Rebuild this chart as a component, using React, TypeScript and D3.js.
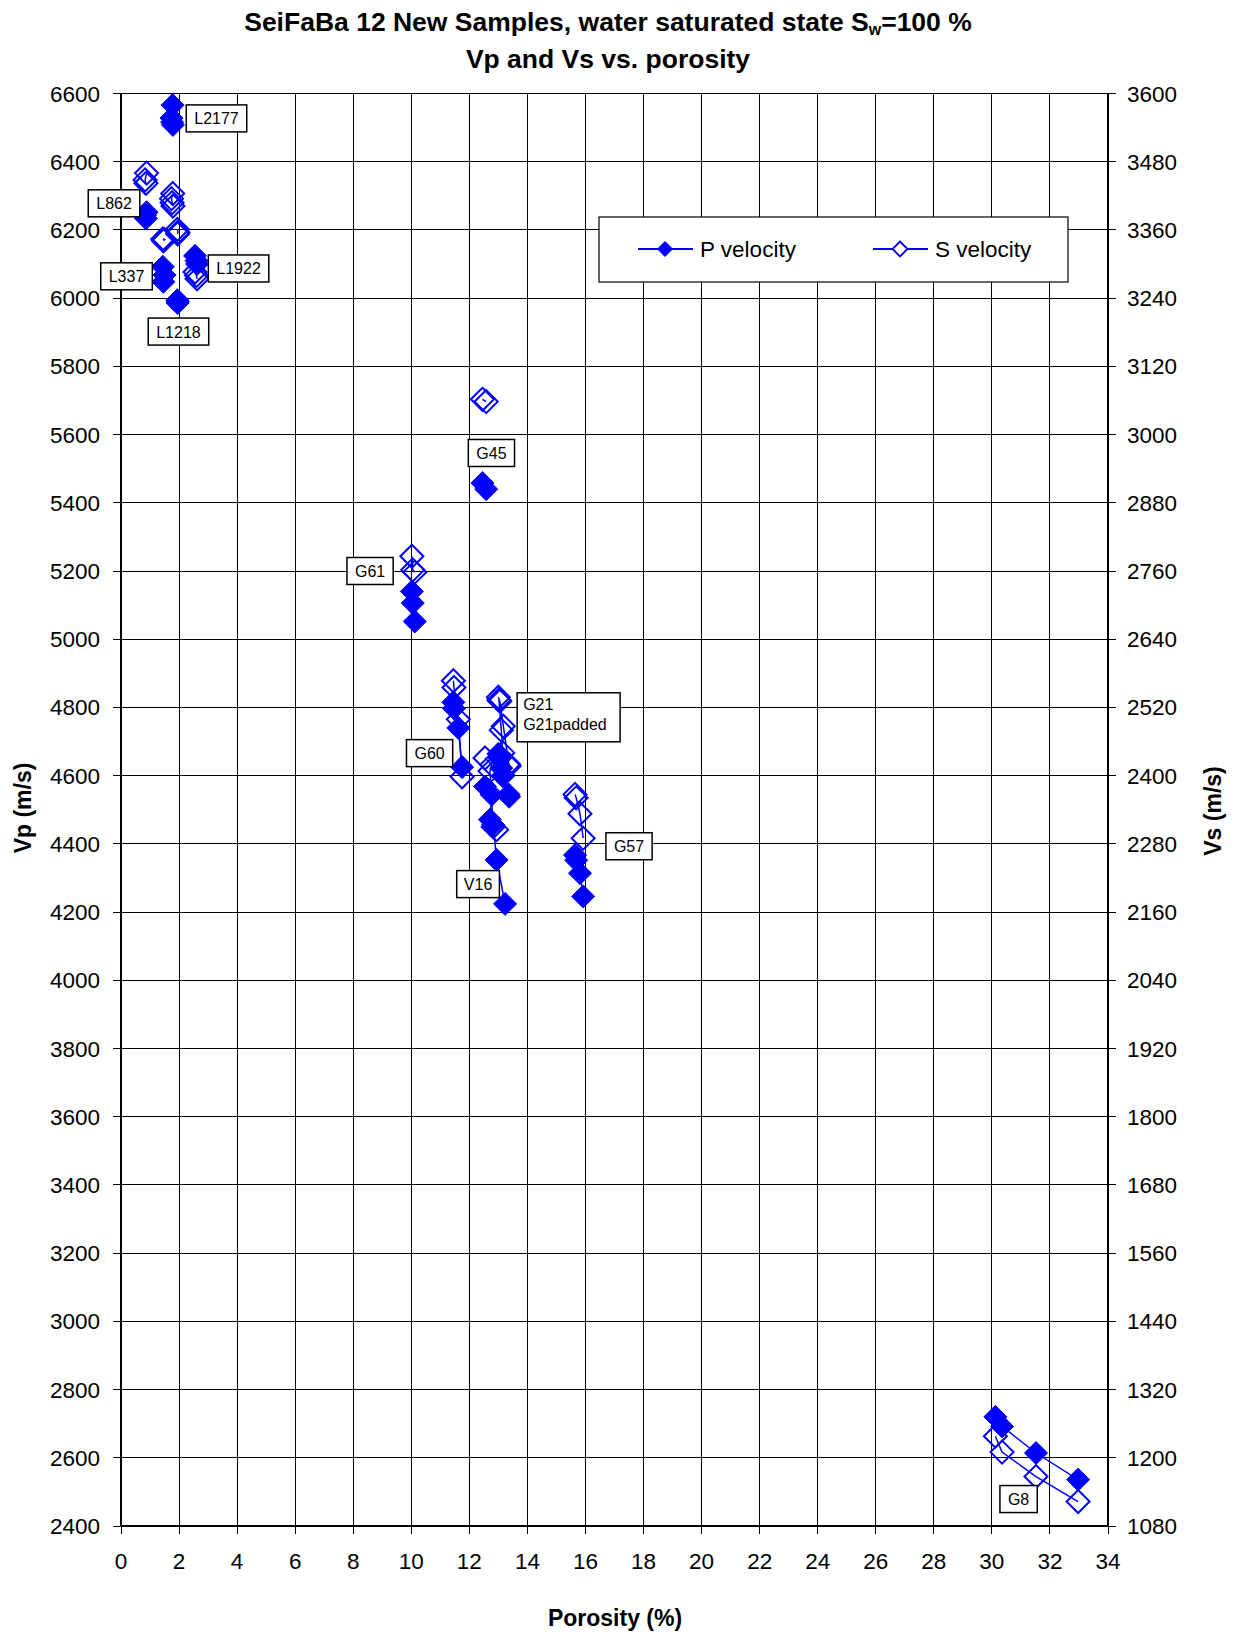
import React from 'react';
import * as d3 from 'd3';

// ---------- data ----------
const sampleNames = ['L2177', 'L862', 'L337', 'L1218', 'L1922', 'G45', 'G61', 'G60', 'G21', 'G21padded', 'V16', 'G57', 'G8'];

const L2177_por = [1.78, 1.74, 1.76, 1.79];
const L2177_vp = [6566, 6528, 6516, 6508];
const L2177_vs = [3424, 3415, 3408, 3402];

const L862_por = [0.88, 0.83, 0.86];
const L862_vp = [6252, 6244, 6234];
const L862_vs = [3460, 3448, 3442];

const L337_por = [1.44, 1.5, 1.46];
const L337_vp = [6092, 6068, 6048];
const L337_vs = [3344, 3343, 3341];

const L1218_por = [1.94, 1.96, 1.95];
const L1218_vp = [5994, 5990, 5986];
const L1218_vs = [3361, 3356, 3353];

const L1922_por = [2.55, 2.6, 2.62];
const L1922_vp = [6124, 6110, 6100];
const L1922_vs = [3286, 3280, 3274];

const G45_por = [12.45, 12.58];
const G45_vp = [5458, 5440];
const G45_vs = [3062, 3058];

const G61_por = [10.02, 10.05, 10.12];
const G61_vp = [5140, 5106, 5052];
const G61_vs = [2786, 2762, 2758];

const G60_por = [11.45, 11.47, 11.62, 11.75];
const G60_vp = [4815, 4797, 4740, 4625];
const G60_vs = [2567, 2555, 2499, 2398];

const G21_por = [13.0, 13.05, 13.17, 13.37];
const G21_vp = [4664, 4650, 4602, 4538];
const G21_vs = [2538, 2531, 2487, 2417];

const G21padded_por = [13.02, 13.1, 13.15, 13.35];
const G21padded_vp = [4655, 4622, 4598, 4545];
const G21padded_vs = [2533, 2480, 2440, 2420];

const V16_por = [12.54, 12.77, 12.71, 12.82, 12.94, 13.23];
const V16_vp = [4568, 4544, 4471, 4456, 4353, 4224];
const V16_vs = [2431, 2419, 2408, 2310, 2305, null];

const G57_por = [15.64, 15.68, 15.81, 15.92];
const G57_vp = [4367, 4352, 4314, 4246];
const G57_vs = [2367, 2361, 2333, 2290];

const G8_por = [30.12, 30.35, 31.52, 32.97];
const G8_vp = [2720, 2692, 2614, 2536];
const G8_vs = [1238, 1210, 1167, 1123];

const porosityTicks = [0, 2, 4, 6, 8, 10, 12, 14, 16, 18, 20, 22, 24, 26, 28, 30, 32, 34];
const vpTicks = [2400, 2600, 2800, 3000, 3200, 3400, 3600, 3800, 4000, 4200, 4400, 4600, 4800, 5000, 5200, 5400, 5600, 5800, 6000, 6200, 6400, 6600];
const vsTicks = [1080, 1200, 1320, 1440, 1560, 1680, 1800, 1920, 2040, 2160, 2280, 2400, 2520, 2640, 2760, 2880, 3000, 3120, 3240, 3360, 3480, 3600];

// label anchors (centre of box, in porosity / Vp units)
const labelTexts = [['L2177'], ['L862'], ['L337'], ['L1922'], ['L1218'], ['G45'], ['G61'], ['G21', 'G21padded'], ['G60'], ['V16'], ['G57'], ['G8']];
const labelPor = [3.29, -0.24, 0.19, 4.05, 1.98, 12.76, 8.58, 15.42, 10.63, 12.3, 17.5, 30.92];
const labelVp = [6527, 6278, 6064, 6087, 5902, 5546, 5200, 4771, 4666, 4282, 4393, 2479];

const sampleData = [
  [L2177_por, L2177_vp, L2177_vs],
  [L862_por, L862_vp, L862_vs],
  [L337_por, L337_vp, L337_vs],
  [L1218_por, L1218_vp, L1218_vs],
  [L1922_por, L1922_vp, L1922_vs],
  [G45_por, G45_vp, G45_vs],
  [G61_por, G61_vp, G61_vs],
  [G60_por, G60_vp, G60_vs],
  [G21_por, G21_vp, G21_vs],
  [G21padded_por, G21padded_vp, G21padded_vs],
  [V16_por, V16_vp, V16_vs],
  [G57_por, G57_vp, G57_vs],
  [G8_por, G8_vp, G8_vs],
];

// ---------- layout ----------
const W = 1237;
const H = 1635;
const left = 121;
const right = 1108;
const top = 93.5;
const bottom = 1526;
const BLUE = '#0000FF';
const FONT = '"Liberation Sans", Arial, Helvetica, sans-serif';
const R = 11.5;

function diamond(cx: number, cy: number, r: number) {
  return `M${cx},${cy - r}L${cx + r},${cy}L${cx},${cy + r}L${cx - r},${cy}Z`;
}

export default function App() {
  const x = d3.scaleLinear().domain([0, 34]).range([left, right]);
  const yP = d3.scaleLinear().domain([2400, 6600]).range([bottom, top]);
  const yS = d3.scaleLinear().domain([1080, 3600]).range([bottom, top]);

  const series = sampleNames.map((name, i) => {
    const [por, vp, vs] = sampleData[i] as [number[], number[], (number | null)[]];
    const pPts = por.map((p, k) => [x(p), yP(vp[k])] as [number, number]);
    const sPts = por
      .map((p, k) => (vs[k] == null ? null : ([x(p), yS(vs[k] as number)] as [number, number])))
      .filter((d) => d != null) as [number, number][];
    return { name, pPts, sPts };
  });

  const line = d3.line<[number, number]>();

  return (
    <svg
      width={W}
      height={H}
      style={{ position: 'absolute', left: 0, top: 0, display: 'block', background: '#fff' }}
      fontFamily={FONT}
    >
      <rect x={0} y={0} width={W} height={H} fill="#fff" />
      {/* title */}
      <text x={608} y={31} textAnchor="middle" fontSize={26.5} fontWeight="bold" fill="#000">
        SeiFaBa 12 New Samples, water saturated state S
        <tspan fontSize={16} dy={4}>w</tspan>
        <tspan dy={-4}>=100 %</tspan>
      </text>
      <text x={608} y={68} textAnchor="middle" fontSize={26.5} fontWeight="bold" fill="#000">
        Vp and Vs vs. porosity
      </text>

      {/* grid */}
      <g shapeRendering="crispEdges" stroke="#000" strokeWidth={1}>
        {vpTicks.map((t) => (
          <line key={'h' + t} x1={left} x2={right} y1={yP(t)} y2={yP(t)} />
        ))}
        {porosityTicks.map((t) => (
          <line key={'v' + t} x1={x(t)} x2={x(t)} y1={top} y2={bottom} />
        ))}
        {/* tick marks */}
        {vpTicks.map((t) => (
          <line key={'lt' + t} x1={left - 8} x2={left} y1={yP(t)} y2={yP(t)} />
        ))}
        {vsTicks.map((t) => (
          <line key={'rt' + t} x1={right} x2={right + 8} y1={yS(t)} y2={yS(t)} />
        ))}
        {porosityTicks.map((t) => (
          <line key={'bt' + t} x1={x(t)} x2={x(t)} y1={bottom} y2={bottom + 8} />
        ))}
      </g>
      {/* axes */}
      <g stroke="#000" strokeWidth={2} shapeRendering="crispEdges">
        <line x1={left} x2={left} y1={top} y2={bottom} />
        <line x1={right} x2={right} y1={top} y2={bottom} />
        <line x1={left} x2={right} y1={bottom} y2={bottom} />
      </g>

      {/* tick labels */}
      <g fontSize={22.5} fill="#000">
        {vpTicks.map((t) => (
          <text key={'ll' + t} x={100} y={yP(t) + 8} textAnchor="end">
            {t}
          </text>
        ))}
        {vsTicks.map((t) => (
          <text key={'rl' + t} x={1127} y={yS(t) + 8} textAnchor="start">
            {t}
          </text>
        ))}
        {porosityTicks.map((t) => (
          <text key={'bl' + t} x={x(t)} y={1569} textAnchor="middle">
            {t}
          </text>
        ))}
      </g>

      {/* axis titles */}
      <text x={615} y={1626} textAnchor="middle" fontSize={23} fontWeight="bold">
        Porosity (%)
      </text>
      <text transform="translate(31,808) rotate(-90)" textAnchor="middle" fontSize={23} fontWeight="bold">
        Vp (m/s)
      </text>
      <text transform="translate(1221,811) rotate(-90)" textAnchor="middle" fontSize={23} fontWeight="bold">
        Vs (m/s)
      </text>

      {/* data */}
      {series.map((s) => (
        <g key={s.name}>
          <path d={line(s.pPts) || ''} fill="none" stroke={BLUE} strokeWidth={1.5} />
          <path d={line(s.sPts) || ''} fill="none" stroke={BLUE} strokeWidth={1.5} />
          {s.sPts.map((p, k) => (
            <path key={'s' + k} d={diamond(p[0], p[1], R)} fill="none" stroke={BLUE} strokeWidth={2} />
          ))}
          {s.pPts.map((p, k) => (
            <path key={'p' + k} d={diamond(p[0], p[1], R)} fill={BLUE} stroke={BLUE} strokeWidth={1} />
          ))}
        </g>
      ))}

      {/* data labels */}
      {labelTexts.map((lines, i) => {
        const cx = x(labelPor[i]);
        const cy = yP(labelVp[i]);
        const fs = 16;
        const longest = d3.max(lines, (l) => l.length * 0.556 * fs + (l.startsWith('G') ? 0.22 * fs : 0)) as number;
        const w = lines.length > 1 ? 103 : longest + 16;
        const h = lines.length > 1 ? 49 : 27;
        return (
          <g key={'lab' + i}>
            <rect x={cx - w / 2} y={cy - h / 2} width={w} height={h} fill="#fff" stroke="#000" strokeWidth={1.5} />
            {lines.map((l, k) => (
              <text
                key={k}
                x={lines.length > 1 ? cx - w / 2 + 6 : cx}
                y={cy - h / 2 + (lines.length > 1 ? 17 + k * 20 : 19.5)}
                textAnchor={lines.length > 1 ? 'start' : 'middle'}
                fontSize={fs}
                fill="#000"
              >
                {l}
              </text>
            ))}
          </g>
        );
      })}

      {/* legend */}
      <g>
        <rect x={599} y={217} width={469} height={65} fill="#fff" stroke="#000" strokeWidth={1.2} />
        <line x1={638} x2={693} y1={249} y2={249} stroke={BLUE} strokeWidth={2} />
        <path d={diamond(665, 249, 7.5)} fill={BLUE} stroke={BLUE} />
        <text x={700} y={257} fontSize={22.5} fill="#000">
          P velocity
        </text>
        <line x1={873} x2={928} y1={249} y2={249} stroke={BLUE} strokeWidth={2} />
        <path d={diamond(900, 249, 7.5)} fill="#fff" stroke={BLUE} strokeWidth={1.8} />
        <text x={935} y={257} fontSize={22.5} fill="#000">
          S velocity
        </text>
      </g>
    </svg>
  );
}
